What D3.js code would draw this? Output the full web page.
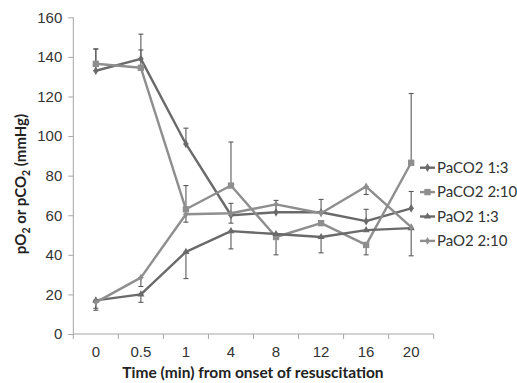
<!DOCTYPE html>
<html>
<head>
<meta charset="utf-8">
<script src="https://cdn.jsdelivr.net/npm/d3@7"></script>
<style>
  body { margin: 0; background: #fff; }
  svg { display: block; font-family: Lato, "Open Sans", sans-serif; }
  .axis path, .axis line { stroke: #a6a6a6; }
  .axis text { fill: #333; font-size: 15px; }
</style>
</head>
<body>
<svg width="517" height="383"></svg>
<script>
// Data
let times = ["0", "0.5", "1", "4", "8", "12", "16", "20"];
let yTicks = [0, 20, 40, 60, 80, 100, 120, 140, 160];

let paco2_13 = [133, 139, 96, 60, 61.5, 61.5, 57, 63.5];
let paco2_210 = [136.5, 134.5, 63, 75, 49, 56, 45, 86.5];
let pao2_13 = [17, 20, 41.5, 52, 50.5, 49, 52.5, 53.5];
let pao2_210 = [16, 28.5, 60.5, 61, 65.5, 61, 74.5, 54];

// error bar ends [low, high]
let paco2_13Err = [[133, 144], [139, 143.5], [96, 104], [60, 66], [61.5, 67.5], [61.5, 68], [57, 63], [63.5, 72]];
let paco2_210Err = [[136.5, 144], [134.5, 151.5], [63, 75], [75, 97], [40, 49], [56, 56], [40, 45], [86.5, 121.5]];
let pao2_13Err = [[13, 17], [16, 20], [28, 41.5], [43, 52], [50.5, 50.5], [41, 49], [52.5, 52.5], [39.5, 53.5]];
let pao2_210Err = [[12, 16], [24, 28.5], [56.5, 60.5], [56, 61], [65.5, 65.5], [61, 61], [70.5, 74.5], [54, 54]];

let seriesNames = ["PaCO2 1:3", "PaCO2 2:10", "PaO2 1:3", "PaO2 2:10"];
let series = [
    {name: seriesNames[0], values: paco2_13, err: paco2_13Err, color: "#6a6a6a", symbol: d3.symbolDiamond, size: 22},
    {name: seriesNames[1], values: paco2_210, err: paco2_210Err, color: "#8e8e8e", symbol: d3.symbolSquare, size: 40},
    {name: seriesNames[2], values: pao2_13, err: pao2_13Err, color: "#6a6a6a", symbol: d3.symbolTriangle, size: 22},
    {name: seriesNames[3], values: pao2_210, err: pao2_210Err, color: "#8e8e8e", symbol: d3.symbolDiamond, size: 18}
];

// Layout
let svg = d3.select("svg");
let plotLeft = 73.3, plotRight = 433.7, plotTop = 17.3, plotBottom = 334;

let x = d3.scaleBand()
    .domain(times)
    .range([plotLeft, plotRight]);
let cx = function(t) { return x(t) + x.bandwidth() / 2; };

let y = d3.scaleLinear()
    .domain([0, 160])
    .range([plotBottom, plotTop]);

// Y axis
let yAxis = svg.append("g")
    .attr("class", "axis")
    .attr("transform", "translate(" + plotLeft + ",0)")
    .call(d3.axisLeft(y).tickValues(yTicks).tickSize(5).tickPadding(6).tickSizeOuter(0));
yAxis.select(".domain").attr("d", "M0," + plotBottom + "V" + plotTop);

// X axis: labels at band centres, ticks at band edges
let xAxis = svg.append("g")
    .attr("class", "axis")
    .attr("transform", "translate(0," + plotBottom + ")")
    .call(d3.axisBottom(x).tickSize(0).tickPadding(12));
xAxis.select(".domain").attr("d", "M" + plotLeft + ",0H" + plotRight);
xAxis.selectAll(".edge")
    .data(times.map(function(t) { return x(t); }).concat([plotRight]))
    .enter().append("line")
    .attr("x1", function(d) { return d; })
    .attr("x2", function(d) { return d; })
    .attr("y1", 0)
    .attr("y2", 5)
    .attr("stroke", "#a6a6a6");

// Error bars
let bars = svg.append("g");
series.forEach(function(s) {
    let g = bars.selectAll(null)
        .data(s.err.map(function(e, i) { return {t: times[i], lo: e[0], hi: e[1]}; })
            .filter(function(d) { return d.hi > d.lo; }))
        .enter().append("g")
        .attr("stroke", "#5a5a5a")
        .attr("stroke-width", 1.1);
    g.append("line")
        .attr("x1", function(d) { return cx(d.t); })
        .attr("x2", function(d) { return cx(d.t); })
        .attr("y1", function(d) { return y(d.lo); })
        .attr("y2", function(d) { return y(d.hi); });
    ["lo", "hi"].forEach(function(k) {
        g.append("line")
            .attr("x1", function(d) { return cx(d.t) - 2.5; })
            .attr("x2", function(d) { return cx(d.t) + 2.5; })
            .attr("y1", function(d) { return y(d[k]); })
            .attr("y2", function(d) { return y(d[k]); });
    });
});

// Lines and markers
let line = d3.line()
    .x(function(d, i) { return cx(times[i]); })
    .y(function(d) { return y(d); });

series.forEach(function(s) {
    svg.append("path")
        .datum(s.values)
        .attr("d", line)
        .attr("fill", "none")
        .attr("stroke", s.color)
        .attr("stroke-width", 2.4)
        .attr("stroke-linejoin", "round");
    svg.selectAll(null)
        .data(s.values)
        .enter().append("path")
        .attr("d", d3.symbol().type(s.symbol).size(s.size))
        .attr("transform", function(d, i) { return "translate(" + cx(times[i]) + "," + y(d) + ")"; })
        .attr("fill", s.color);
});

// Legend
let legend = svg.selectAll("g.legend")
    .data(series)
    .enter().append("g")
    .attr("class", "legend")
    .attr("transform", function(d, i) { return "translate(420," + (167.7 + i * 24.4) + ")"; });
legend.append("line")
    .attr("x1", 0).attr("x2", 15)
    .attr("stroke", function(d) { return d.color; })
    .attr("stroke-width", 2.4);
legend.append("path")
    .attr("d", function(d) { return d3.symbol().type(d.symbol).size(d.size)(); })
    .attr("transform", "translate(7.5,0)")
    .attr("fill", function(d) { return d.color; });
legend.append("text")
    .attr("x", 17)
    .attr("dy", "0.35em")
    .attr("fill", "#333")
    .style("font-size", "15px")
    .text(function(d) { return d.name; });

// Axis titles
svg.append("text")
    .attr("x", 253)
    .attr("y", 378)
    .attr("text-anchor", "middle")
    .attr("fill", "#222")
    .style("font-size", "15.5px")
    .style("font-weight", "bold")
    .text("Time (min) from onset of resuscitation");

let yTitle = svg.append("text")
    .attr("transform", "translate(26,184) rotate(-90)")
    .attr("text-anchor", "middle")
    .attr("fill", "#222")
    .style("font-size", "15px")
    .style("font-weight", "bold");
yTitle.append("tspan").text("pO");
yTitle.append("tspan").attr("dy", 4).style("font-size", "10.5px").text("2");
yTitle.append("tspan").attr("dy", -4).text(" or pCO");
yTitle.append("tspan").attr("dy", 4).style("font-size", "10.5px").text("2");
yTitle.append("tspan").attr("dy", -4).text(" (mmHg)");
</script>
</body>
</html>
